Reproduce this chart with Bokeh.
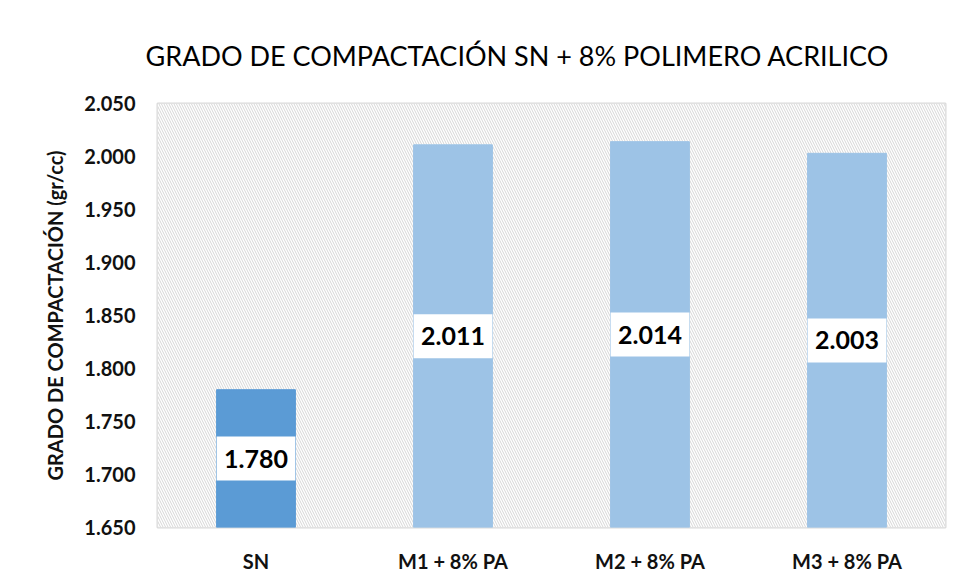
from bokeh.plotting import figure
from bokeh.models import ColumnDataSource, FixedTicker, NumeralTickFormatter, BoxAnnotation
from bokeh.core.properties import value
from bokeh.embed import file_html
from bokeh.resources import INLINE

categories = ["SN", "M1 + 8% PA", "M2 + 8% PA", "M3 + 8% PA"]
densities = [1.780, 2.011, 2.014, 2.003]
bar_colors = ["#5B9BD5", "#9DC3E6", "#9DC3E6", "#9DC3E6"]
y_ticks = [1.65, 1.70, 1.75, 1.80, 1.85, 1.90, 1.95, 2.00, 2.05]

Y_MIN, Y_MAX = y_ticks[0], y_ticks[-1]
xs = list(range(len(categories)))
mids = [(Y_MIN + d) / 2 for d in densities]
labels = [f"{d:.3f}" for d in densities]

src = ColumnDataSource(dict(x=xs, top=densities, color=bar_colors, mid=mids, label=labels))

FONT = "Lato"
p = figure(width=949, height=575, output_backend="svg", toolbar_location=None,
           x_range=(-0.5, len(categories) - 0.5), y_range=(Y_MIN, Y_MAX),
           min_border_left=157, min_border_top=103, min_border_right=4, min_border_bottom=48,
           title="GRADO DE COMPACTACIÓN SN + 8% POLIMERO ACRILICO")

p.title.align = "left"
p.title.offset = -12
p.title.text_font = FONT
p.title.text_font_style = "normal"
p.title.text_font_size = "27px"
p.title.text_color = "#000000"
p.title.standoff = 63

# hatched plot-area background
p.add_layout(BoxAnnotation(fill_color="white", fill_alpha=1.0, line_color=None,
                           hatch_pattern="\\", hatch_color="#d6d6d6", hatch_scale=5,
                           hatch_weight=1, level="underlay"))

p.vbar(x="x", top="top", bottom=Y_MIN, width=0.40, color="color", source=src)
p.rect(x="x", y="mid", width=0.40, height=44, height_units="screen",
       fill_color="white", line_color=None, source=src)
p.text(x="x", y="mid", text="label", text_align="center", text_baseline="middle",
       text_font=value(FONT), text_font_style="bold", text_font_size="25px",
       text_color="black", source=src)

p.yaxis.ticker = FixedTicker(ticks=y_ticks)
p.yaxis.formatter = NumeralTickFormatter(format="0.000")
p.yaxis.axis_label = "GRADO DE COMPACTACIÓN (gr/cc)"
p.yaxis.axis_label_text_font = FONT
p.yaxis.axis_label_text_font_style = "bold"
p.yaxis.axis_label_text_font_size = "20px"
p.yaxis.axis_label_text_color = "#111111"
p.yaxis.axis_label_standoff = 14
p.xaxis.ticker = FixedTicker(ticks=xs)
p.xaxis.major_label_overrides = {i: c for i, c in enumerate(categories)}

for ax in (p.xaxis, p.yaxis):
    ax.axis_line_color = None
    ax.major_tick_line_color = None
    ax.minor_tick_line_color = None
    ax.major_label_text_font = FONT
    ax.major_label_text_font_style = "bold"
    ax.major_label_text_font_size = "20px"
    ax.major_label_text_color = "#111111"
p.yaxis.major_label_standoff = 16
p.xaxis.major_label_standoff = 15

p.ygrid.ticker = FixedTicker(ticks=y_ticks)
p.xgrid.ticker = FixedTicker(ticks=[i + 0.5 for i in xs[:-1]])
for g in (p.xgrid, p.ygrid):
    g.grid_line_color = "#d9d9d9"
    g.grid_line_width = 2
p.outline_line_color = "#d9d9d9"
p.outline_line_width = 2

open("out.html", "w").write(file_html(p, INLINE))
